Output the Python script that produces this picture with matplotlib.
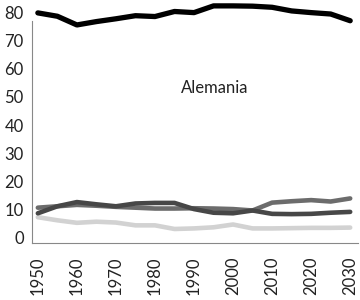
import numpy as np
import matplotlib
matplotlib.use("Agg")
import matplotlib.pyplot as plt

plt.rcParams['font.family'] = ['Lato', 'DejaVu Sans']

# años cada 5
years = list(range(1950, 2031, 5))

# serie principal (negra)
serie_negra = [80, 78.8, 75.7, 76.9, 77.9, 79, 78.7, 80.5, 80.1, 82.5, 82.5, 82.4, 82, 80.7, 80.1, 79.6, 77.2]
# series inferiores
serie_oscura = [8.5, 11, 12.5, 11.7, 11, 12, 12.2, 12.2, 10, 8.7, 8.5, 9.5, 8.3, 8.2, 8.3, 8.7, 9]
serie_media = [10.5, 11, 11.5, 11.2, 10.8, 10.5, 10.2, 10.2, 10.3, 10.2, 10, 9.5, 12.3, 12.8, 13.2, 12.7, 13.8]
serie_clara = [7.1, 6, 5.1, 5.5, 5.2, 4.2, 4.2, 2.9, 3.1, 3.5, 4.5, 3.1, 3.1, 3.2, 3.3, 3.3, 3.4]

xticks = list(range(1950, 2031, 10))
yticks = list(range(0, 81, 10))

fig = plt.figure(figsize=(3.6, 3.0), dpi=100)
ax = fig.add_axes([32/360, 1-243/300, 326/360, 243/300])

ax.plot(years, serie_clara, color='#d2d2d2', lw=3.3, solid_capstyle='round')
ax.plot(years, serie_media, color='#6c6c6c', lw=3.3, solid_capstyle='round')
ax.plot(years, serie_oscura, color='#474747', lw=3.3, solid_capstyle='round')
ax.plot(years, serie_negra, color='black', lw=3.8, solid_capstyle='round')

ax.set_xlim(1948.5, 2032)
ax.set_ylim(-2.1, 84.6)
ax.set_xticks(xticks)
ax.set_xticklabels([str(y) for y in xticks], rotation=90, fontsize=12, color='#222222')
ax.set_yticks(yticks)
ax.set_yticklabels([str(v) for v in yticks], fontsize=12, color='#222222')
ax.tick_params(length=0, pad=6)
ax.tick_params(axis='x', pad=10)

for s in ['top', 'right']:
    ax.spines[s].set_visible(False)
ax.spines['left'].set_color('#888888')
ax.spines['bottom'].set_color('#888888')
ax.spines['left'].set_bounds(-2.1, 77)

ax.text(1986.7, 53.2, 'Alemania', fontsize=12, color='#222222', va='center', ha='left')

fig.savefig('out.png', dpi=100)
